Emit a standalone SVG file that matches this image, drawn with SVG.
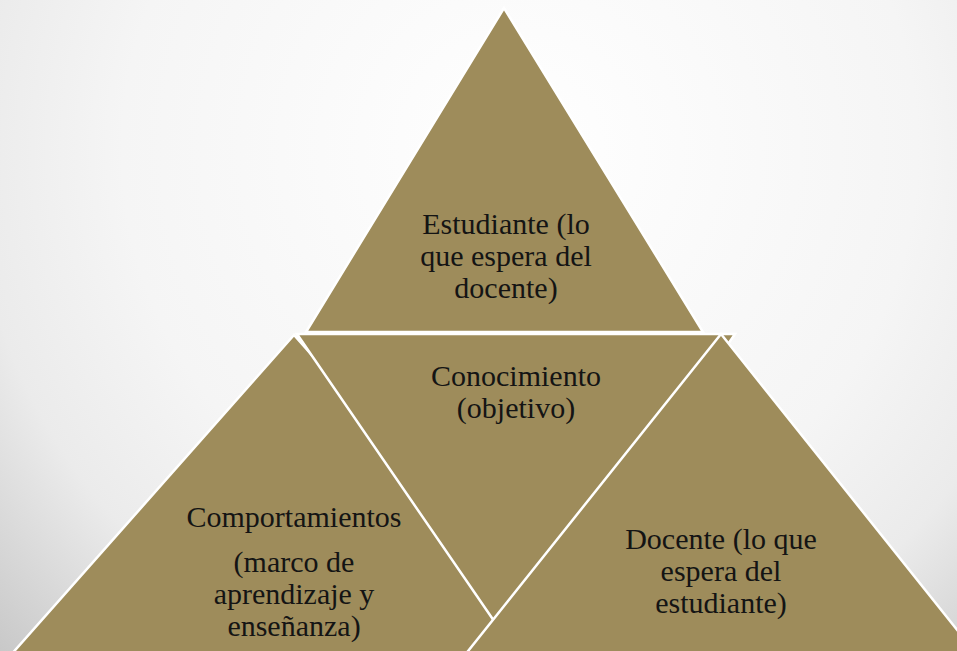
<svg xmlns="http://www.w3.org/2000/svg" width="957" height="651" viewBox="0 0 957 651">
<defs>
<radialGradient id="bg" gradientUnits="userSpaceOnUse" cx="520" cy="150" r="750">
<stop offset="0" stop-color="#ffffff"/>
<stop offset="0.53" stop-color="#f5f5f5"/>
<stop offset="0.73" stop-color="#ebebeb"/>
<stop offset="1" stop-color="#c3c3c3"/>
</radialGradient>
<style>
.tri{fill:#9e8c5b;stroke:#ffffff;stroke-width:2.5;stroke-linejoin:miter}
.lbl{fill:#141414;text-anchor:middle}
</style>
</defs>
<rect x="0" y="0" width="957" height="651" fill="url(#bg)"/>
<g id="connectors"></g>
<g font-family="'Liberation Serif', 'Times New Roman', Times, serif" font-size="30">
<g id="node-estudiante">
<polygon class="tri" points="504,8 306,332 703,332"/>
<text class="lbl" x="506" y="234">Estudiante (lo</text>
<text class="lbl" x="506" y="266">que espera del</text>
<text class="lbl" x="506" y="298">docente)</text>
</g>
<g id="node-comportamientos">
<polygon class="tri" points="294,335 -29,700 617,700"/>
<text class="lbl" x="294" y="527">Comportamientos</text>
<text class="lbl" x="294" y="572">(marco de</text>
<text class="lbl" x="294" y="604">aprendizaje y</text>
<text class="lbl" x="294" y="636">enseñanza)</text>
</g>
<g id="node-conocimiento">
<polygon class="tri" points="297,334 735,334 516,653"/>
<text class="lbl" x="516" y="386">Conocimiento</text>
<text class="lbl" x="516" y="418">(objetivo)</text>
</g>
<g id="node-docente">
<polygon class="tri" points="721,334 429,700 1013,700"/>
<text class="lbl" x="721" y="549">Docente (lo que</text>
<text class="lbl" x="721" y="581">espera del</text>
<text class="lbl" x="721" y="613">estudiante)</text>
</g>
</g>
</svg>
